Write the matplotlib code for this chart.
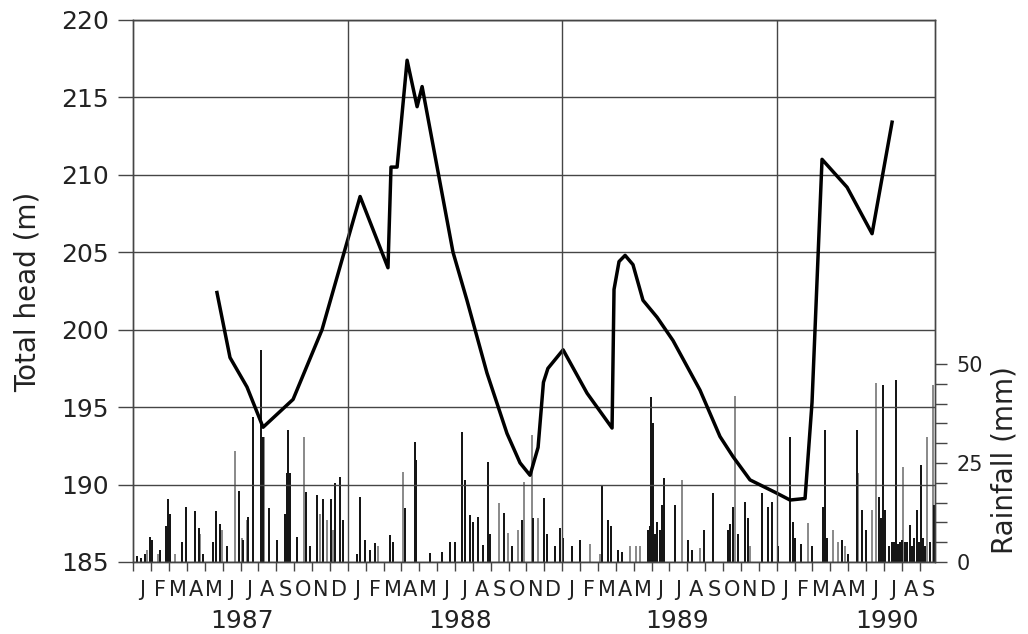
import matplotlib
matplotlib.use("Agg")
import matplotlib.pyplot as plt
import matplotlib.transforms as mtransforms
import numpy as np

# months counted from 1 Jan 1987 (0 = start of Jan 1987)
head_month = [4.68, 5.41, 6.36, 7.26, 8.94, 10.56, 12.69, 14.25, 14.42, 14.76,
              15.32, 15.88, 16.16, 17.89, 18.67, 19.79, 20.91, 21.64, 22.2, 22.65,
              22.95, 23.2, 24.05, 25.39, 26.79, 26.9, 27.18, 27.52, 27.96, 28.52, 29.31,
              30.2, 31.71, 32.83, 33.56, 34.51, 35.91, 36.75, 37.59, 37.98, 38.54,
              39.94, 41.34, 42.46]
head_m = [202.4, 198.2, 196.3, 193.7, 195.5, 200.0, 208.6, 204.0, 210.5, 210.5,
          217.4, 214.4, 215.7, 205.0, 201.9, 197.2, 193.3, 191.4, 190.6, 192.4,
          196.6, 197.5, 198.7, 195.9, 193.65, 202.6, 204.4, 204.8, 204.2, 201.9, 200.8,
          199.3, 196.1, 193.1, 191.8, 190.3, 189.5, 189.0, 189.1, 195.3, 211.0,
          209.2, 206.2, 213.4]

# daily rainfall, station drawn in black
rain_dark_month = [0.21, 0.43, 0.65, 0.93, 1.05, 1.49, 1.83, 1.94, 2.05, 2.73,
                   2.95, 3.45, 3.67, 3.9, 4.46, 4.63, 4.85, 5.25, 5.91, 6.14,
                   6.42, 6.7, 7.15, 7.26, 7.6, 8.04, 8.6, 8.66, 8.77, 9.16,
                   9.66, 9.89, 10.28, 10.62, 11.06, 11.29, 11.57, 11.74,
                   12.52, 12.69, 12.97, 13.25, 13.53, 14.37, 14.53, 15.2, 15.76, 15.82,
                   16.6, 17.28, 17.72, 18.0, 18.4, 18.56, 18.84, 19.01, 19.29, 19.57,
                   19.85, 19.96, 20.74, 21.19, 21.75, 22.37, 22.98, 23.15, 23.6,
                   23.88, 24.05, 24.55, 25.0, 26.23, 26.57, 26.73, 27.12, 27.35, 28.8,
                   28.97, 29.08, 29.31, 29.59, 29.7, 30.31, 31.04, 31.26, 31.93, 32.43,
                   33.28, 33.56, 33.84, 34.23, 34.4, 35.18, 35.52, 35.74,
                   36.08, 36.75, 36.92, 37.03, 37.36, 37.98, 38.6, 38.71, 39.66, 40.0,
                   40.5, 40.78, 41.0, 41.73, 41.95, 42.06, 42.46, 42.68, 42.9, 43.18,
                   43.46, 43.69, 43.85, 44.08, 44.81,
                   # smaller showers filling the dark clusters
                   8.5, 8.72, 28.9, 29.2, 29.45, 33.4, 38.8, 41.85, 42.3, 42.55,
                   42.8, 43.0, 43.3, 43.55, 43.95, 44.2, 44.3, 44.6]
rain_dark_mm = [1.5, 1.0, 2.0, 6.3, 5.5, 3.0, 9.0, 16.0, 12.0, 5.0,
                14.0, 13.0, 8.5, 2.0, 5.0, 13.0, 9.6, 4.0, 18.0, 5.5,
                11.4, 36.6, 53.5, 31.6, 13.6, 5.5, 22.5, 33.3, 22.5, 6.3,
                17.7, 4.0, 16.9, 16.0, 16.0, 20.0, 21.5, 10.6,
                2.0, 16.4, 5.5, 3.0, 4.8, 6.8, 5.0, 13.6, 30.3, 25.7,
                2.3, 2.5, 5.0, 5.0, 32.8, 20.7, 11.9, 10.0, 11.4, 4.3,
                25.3, 7.0, 12.4, 4.0, 10.6, 11.0, 16.2, 7.0, 4.0,
                8.6, 6.0, 4.0, 5.5, 19.4, 10.6, 9.0, 3.0, 2.5, 8.0,
                41.7, 35.0, 10.0, 14.4, 21.2, 14.4, 5.5, 3.0, 8.0, 17.4,
                8.0, 13.9, 7.0, 15.2, 11.0, 17.4, 13.9, 15.2,
                4.0, 31.6, 10.0, 6.0, 4.5, 4.0, 13.9, 33.3, 5.5, 2.0,
                33.3, 13.1, 8.0, 16.4, 44.7, 13.1, 5.0, 46.0, 5.0, 5.0,
                9.3, 6.0, 13.1, 24.5, 14.4,
                12.0, 9.0, 9.0, 7.0, 8.0, 9.5, 6.0, 11.0, 4.0, 5.0,
                4.5, 5.5, 5.0, 4.0, 5.0, 6.0, 4.0, 5.0]

# daily rainfall, station drawn in grey
rain_light_month = [0.77, 1.38, 2.33, 3.73, 4.96, 5.69, 6.08, 6.36, 7.31, 9.55,
                    10.45, 10.84, 11.17,
                    13.69, 15.09, 20.46, 20.97, 21.53, 21.87, 22.31, 22.65,
                    25.56, 26.12, 27.8, 28.13, 28.36, 30.71, 31.71, 33.67, 34.51,
                    37.76, 39.15, 39.43, 39.83, 40.55, 41.34, 41.56, 43.07, 44.41, 44.75]
rain_light_mm = [3.0, 2.0, 2.0, 7.0, 8.0, 28.0, 6.0, 10.6, 31.6, 31.6,
                 12.0, 10.6, 8.0,
                 4.0, 22.7, 14.9, 7.3, 8.0, 20.2, 32.0, 11.0,
                 4.5, 2.0, 4.0, 4.0, 4.0, 20.7, 3.5, 42.0, 4.0,
                 9.8, 8.0, 5.0, 4.0, 22.5, 13.1, 45.2, 24.0, 31.6, 44.7]

month_letters = list("JFMAMJJASOND") * 3 + list("JFMAMJJAS")
year_labels = ["1987", "1988", "1989", "1990"]
year_pos = [6.1, 18.3, 30.4, 42.2]
year_bounds = [12, 24, 36]

gc = "#454545"

fig = plt.figure(figsize=(10.28, 6.34), dpi=100)
ax = fig.add_axes([0.1297, 0.1136, 0.7798, 0.8549])
ax2 = ax.twinx()

# rainfall bars (right axis)
ax2.bar(rain_light_month, rain_light_mm, width=0.11, color="#8c8c8c", linewidth=0)
ax2.bar(rain_dark_month, rain_dark_mm, width=0.11, color="#161616", linewidth=0)
ax2.set_ylim(0, 136.9)
ax2.set_yticks([0, 25, 50])
ax2.set_yticks(np.arange(0, 51, 5), minor=True)
ax2.tick_params(axis="y", which="both", length=8.6, width=1, color=gc,
                pad=7, labelsize=15, labelcolor="#222222")

# total head line (left axis), kept on top of the bars
ax.set_zorder(ax2.get_zorder() + 1)
ax.patch.set_visible(False)
ax.plot(head_month, head_m, color="black", lw=2.5, solid_joinstyle="round")

ax.set_xlim(0, 44.86)
ax.set_ylim(185, 220)
ax.set_yticks(np.arange(185, 221, 5))
ax.tick_params(axis="y", length=10.8, width=1, color=gc, pad=7,
               labelsize=18, labelcolor="#222222")
ax.yaxis.grid(True, color=gc, lw=1)
for b in year_bounds:
    ax.axvline(b, color=gc, lw=1)

# month ticks at boundaries, letters centred in each month
ax.set_xticks(np.arange(0, 45, 1))
ax.set_xticklabels([])
ax.set_xticks(np.arange(0.5, 45, 1), minor=True)
ax.set_xticklabels(month_letters, minor=True)
ax.tick_params(axis="x", which="major", length=6.5, width=1, color=gc, direction="out")
ax.tick_params(axis="x", which="minor", length=0, pad=13, labelsize=15,
               labelcolor="#222222")

trans = mtransforms.blended_transform_factory(ax.transData, ax.transAxes)
for pos, yr in zip(year_pos, year_labels):
    ax.text(pos, -0.109, yr, transform=trans, ha="center", va="center",
            fontsize=18, color="#222222")

for a in (ax, ax2):
    for s in a.spines.values():
        s.set_color(gc)
        s.set_linewidth(1)

fig.text(0.0272, 0.5394, "Total head (m)", rotation=90, ha="center", va="center",
         fontsize=20, color="#222222")
fig.text(0.9776, 0.2744, "Rainfall (mm)", rotation=90, ha="center", va="center",
         fontsize=20, color="#222222")

fig.savefig("out.png", dpi=100)
